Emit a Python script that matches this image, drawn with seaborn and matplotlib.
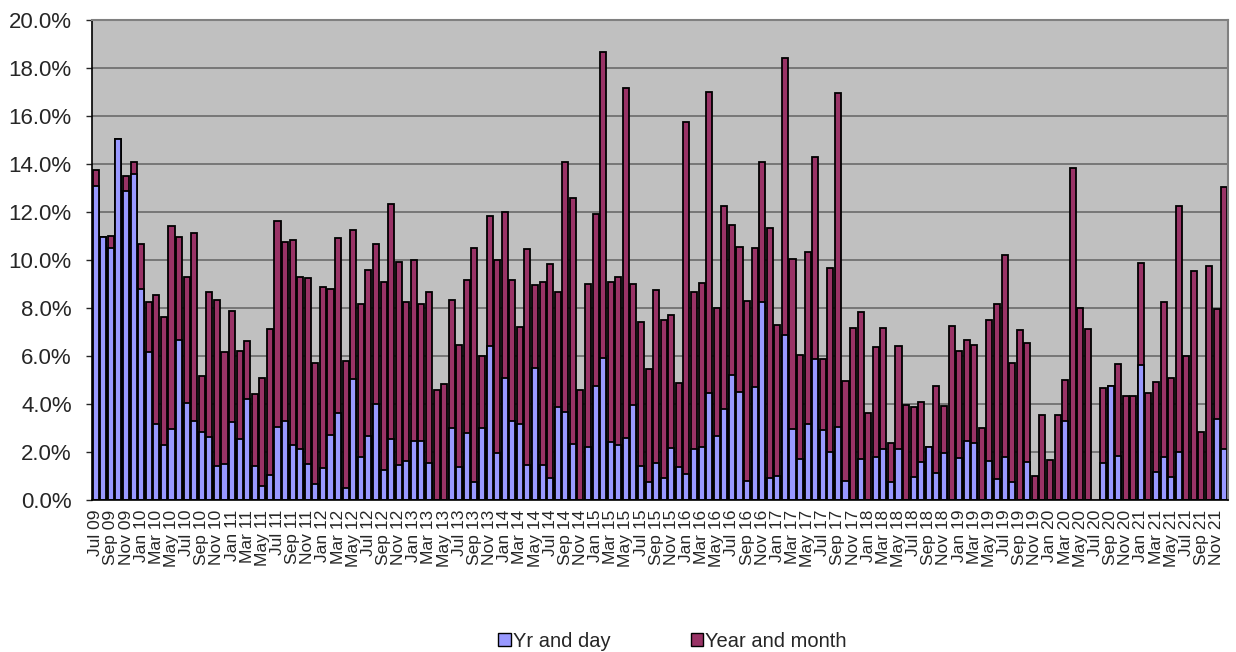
import numpy as np
import pandas as pd
import matplotlib
matplotlib.use("Agg")
import matplotlib.pyplot as plt
import seaborn as sns
from matplotlib.patches import Patch
from matplotlib.ticker import FuncFormatter

# months Jul 09 .. Dec 21
months = list(pd.date_range("2009-07-01", "2021-12-01", freq="MS").strftime("%b %y"))

# Year and month (%)
year_month = [
    13.75, 10.97, 11.0, 15.04, 13.5, 14.1,
    10.68, 8.26, 8.54, 7.64, 11.43, 10.97, 9.28, 11.11, 5.18, 8.65, 8.32, 6.18,
    7.88, 6.21, 6.64, 4.40, 5.1, 7.11, 11.64, 10.74, 10.85, 9.28, 9.24, 5.69,
    8.89, 8.79, 10.9, 5.79, 11.24, 8.18, 9.58, 10.68, 9.1, 12.35, 9.93, 8.26,
    10.0, 8.15, 8.67, 4.58, 4.83, 8.33, 6.46, 9.15, 10.49, 6.01, 11.83, 10.0,
    11.99, 9.17, 7.19, 10.46, 8.96, 9.1, 9.82, 8.65, 14.1, 12.6, 4.58, 9.0,
    11.9, 18.68, 9.1, 9.29, 17.15, 9.01, 7.43, 5.46, 8.74, 7.49, 7.71, 4.86,
    15.76, 8.65, 9.04, 16.99, 7.99, 12.25, 11.46, 10.54, 8.28, 10.49, 14.07, 11.35,
    7.29, 18.43, 10.03, 6.04, 10.33, 14.31, 5.88, 9.67, 16.96, 4.96, 7.15, 7.85,
    3.61, 6.36, 7.15, 2.39, 6.43, 3.96, 3.86, 4.07, 2.19, 4.76, 3.93, 7.26,
    6.22, 6.67, 6.46, 3.01, 7.5, 8.18, 10.19, 5.72, 7.08, 6.56, 1.0, 3.54,
    1.67, 3.54, 5.0, 13.82, 7.99, 7.13, np.nan, 4.65, 4.76, 5.65, 4.33, 4.33,
    9.86, 4.47, 4.93, 8.26, 5.1, 12.25, 6.0, 9.54, 2.85, 9.76, 7.96, 13.06,
]

# Yr and day (%)
yr_day = [
    13.1, 10.97, 10.49, 15.04, 12.88, 13.58,
    8.78, 6.18, 3.18, 2.29, 2.94, 6.67, 4.03, 3.31, 2.85, 2.61, 1.43, 1.5,
    3.26, 2.54, 4.21, 1.42, 0.58, 1.04, 3.04, 3.31, 2.29, 2.11, 1.5, 0.67,
    1.35, 2.71, 3.61, 0.51, 5.04, 1.78, 2.68, 3.99, 1.25, 2.54, 1.46, 1.63,
    2.46, 2.47, 1.53, 0, 0, 2.99, 1.39, 2.78, 0.76, 2.99, 6.43, 1.97,
    5.1, 3.31, 3.17, 1.46, 5.49, 1.46, 0.93, 3.89, 3.68, 2.32, 0, 2.19,
    4.75, 5.93, 2.43, 2.29, 2.6, 3.96, 1.43, 0.74, 1.53, 0.9, 2.18, 1.36,
    1.08, 2.14, 2.22, 4.47, 2.65, 3.79, 5.21, 4.5, 0.79, 4.72, 8.26, 0.93,
    1.0, 6.88, 2.96, 1.69, 3.15, 5.86, 2.92, 2.01, 3.06, 0.81, 0, 1.71,
    0, 1.78, 2.13, 0.76, 2.11, 0, 0.94, 1.6, 2.19, 1.14, 1.94, 0,
    1.76, 2.46, 2.39, 0, 1.64, 0.88, 1.81, 0.76, 0, 1.6, 0, 0,
    0, 0, 3.31, 0, 0, 0, np.nan, 1.53, 4.76, 1.85, 0, 0,
    5.63, 0, 1.18, 1.78, 0.97, 2.01, 0, 0, 0, 0, 3.37, 2.13,
]

blue = "#9999FF"
maroon = "#993366"

sns.set_style("white")
plt.rcParams["font.family"] = ["Liberation Sans", "DejaVu Sans"]

fig, ax = plt.subplots(figsize=(12.36, 6.52), dpi=100)
fig.subplots_adjust(left=0.0744, right=0.9935, top=0.9693, bottom=0.2331)

# maroon behind, blue in front
sns.barplot(x=months, y=year_month, order=months, color=maroon, saturation=1,
            width=0.8, edgecolor="black", linewidth=1.3, errorbar=None, ax=ax)
sns.barplot(x=months, y=yr_day, order=months, color=blue, saturation=1,
            width=0.8, edgecolor="black", linewidth=1.3, errorbar=None, ax=ax)

ax.set_facecolor("#C0C0C0")
ax.set_ylim(0, 20)
ax.set_xlim(-0.5, len(months) - 0.5)
ax.set_yticks(np.arange(0, 21, 2))
ax.yaxis.set_major_formatter(FuncFormatter(lambda v, p: f"{v:.1f}%"))
ax.yaxis.grid(True, color="#6a6a6a", linewidth=1.2)
ax.set_axisbelow(True)

ax.set_xticks(range(0, len(months), 2))
ax.set_xticklabels(months[::2], rotation=90)
ax.set_xticks(np.arange(-0.5, len(months), 1), minor=True)
ax.tick_params(axis="x", which="major", length=0, pad=7, labelsize=12.5)
ax.tick_params(axis="x", which="minor", length=4, width=0.8, color="#444444")
ax.tick_params(axis="y", length=4.5, width=1, left=True, pad=10, labelsize=16)
ax.set_xlabel("")
ax.set_ylabel("")

for s in ["left", "bottom"]:
    ax.spines[s].set_color("black")
    ax.spines[s].set_linewidth(1.2)
for s in ["top", "right"]:
    ax.spines[s].set_color("#808080")
    ax.spines[s].set_linewidth(1.5)

handles = [Patch(facecolor=blue, edgecolor="black", label="Yr and day"),
           Patch(facecolor=maroon, edgecolor="black", label="Year and month")]
fig.legend(handles=handles, loc="lower center", bbox_to_anchor=(0.544, -0.026),
           ncol=2, frameon=False, fontsize=14.5, handlelength=0.6, handleheight=0.6,
           handletextpad=0.1, columnspacing=4.0)

fig.savefig("out.png", dpi=100)
